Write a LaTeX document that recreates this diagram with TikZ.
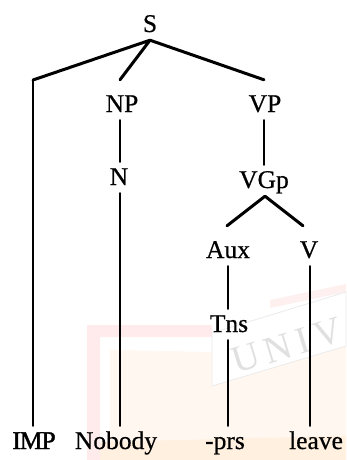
\documentclass[tikz,border=0pt]{standalone}
\usepackage{fontspec}
\setmainfont{Liberation Serif}
\newfontfamily\treefont{Liberation Serif}[FakeBold=0.6]
\newfontfamily\heavyfont{Liberation Serif}[FakeBold=1.6,LetterSpace=-4]
\begin{document}
\begin{tikzpicture}[x=1pt,y=-1pt,
  cat/.style={inner xsep=0pt,inner ysep=3pt,text height=20pt,text depth=5pt,
    anchor=base,font=\treefont\fontsize{25.5}{30}\selectfont},
  branch/.style={line width=3pt,line cap=round,line join=round},
  stem/.style={line width=2.5pt,line cap=round}]
\useasboundingbox (0,0) rectangle (346,460);
\fill[white] (0,0) rectangle (346,460);

% faint crest printed behind the tree
\fill[orange!6] (110,350) -- (212,352) -- (212,460) -- (110,460) -- cycle;
\fill[orange!6] (212,385) -- (346,345) -- (346,460) -- (212,460) -- cycle;
\fill[orange!12] (100,442) -- (346,436) -- (346,460) -- (100,460) -- cycle;
\fill[red!8] (87,325) -- (212,325) -- (212,337) -- (100,337) -- (100,460) -- (87,460) -- cycle;
\fill[red!6] (270,300) -- (346,284) -- (346,292) -- (270,308) -- cycle;
\filldraw[fill=white,draw=black!8,line width=0.8pt]
  (212,333) -- (346,292) -- (346,346) -- (212,386) -- cycle;
\node[rotate=17,anchor=base west,text=black!12,inner sep=0pt,
  font=\fontsize{38}{40}\selectfont] (crest) at (236,374) {U\,N\,I\,V};

% constituents
\node[cat] (S)      at (150,32)  {S};
\node[cat] (NP)     at (122,112) {NP};
\node[cat] (VP)     at (265,112) {VP};
\node[cat] (N)      at (119,185) {N};
\node[cat] (VGp)    at (264,188) {VGp};
\node[cat] (Aux)    at (228,258) {Aux};
\node[cat] (V)      at (309,258) {V};
\node[cat] (Tns)    at (229,332) {Tns};
\node[cat,font=\heavyfont\fontsize{25.5}{30}\selectfont] (IMP) at (34,449) {IMP};
\node[cat] (Nobody) at (116,449) {Nobody};
\node[cat] (prs)    at (225,449) {-prs};
\node[cat] (leave)  at (316,449) {leave};
\coordinate (impCorner) at (33,80);

% branches
\draw[branch] (impCorner) -- (S.south) -- ([yshift=9pt]NP.north -| 120,0);
\draw[branch] (S.south) -- ([yshift=9pt]VP.north -| 264,0);
\draw[stem] (impCorner) -- (impCorner |- IMP.north);
\draw[stem] (NP.south -| 120,0) -- (N.north -| 120,0);
\draw[stem] (N.south -| 120,0) -- (Nobody.north -| 120,0);
\draw[stem] (VP.south -| 264,0) -- (VGp.north -| 264,0);
\draw[branch] ([yshift=9pt]Aux.north -| 227,0) -- (VGp.south -| 265,0) -- ([yshift=9pt]V.north -| 303,0);
\draw[stem] (Aux.south -| 228,0) -- (Tns.north -| 228,0);
\draw[stem] (Tns.south -| 228,0) -- (prs.north -| 228,0);
\draw[stem] (V.south -| 310,0) -- (leave.north -| 310,0);
\end{tikzpicture}
\end{document}
